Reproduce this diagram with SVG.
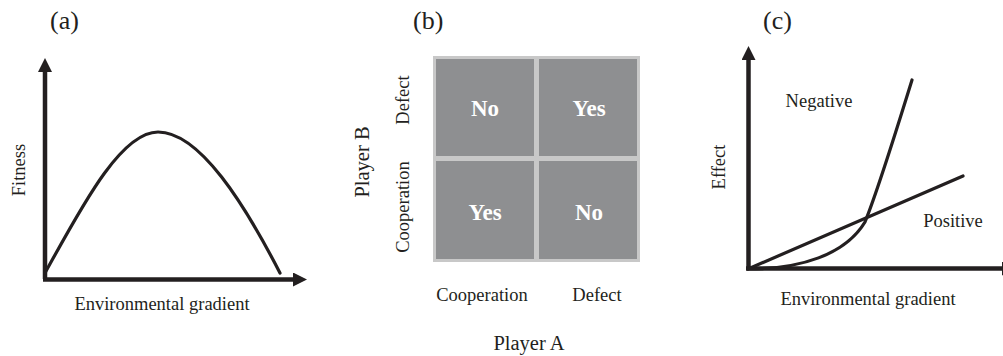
<svg xmlns="http://www.w3.org/2000/svg" width="1003" height="356" viewBox="0 0 1003 356">
  <style>
    .lbl { font-family: "Liberation Serif", "Times New Roman", serif; font-size: 18.5px; fill: #231f20; }
    .panel { font-family: "Liberation Serif", "Times New Roman", serif; font-size: 26px; fill: #231f20; }
    .player { font-family: "Liberation Serif", "Times New Roman", serif; font-size: 20.5px; fill: #231f20; }
    .cellTxt { font-family: "Liberation Serif", "Times New Roman", serif; font-size: 23px; font-weight: bold; fill: #ffffff; text-anchor: middle; }
    .axis { stroke: #231f20; stroke-width: 4.5; fill: none; }
    .curve { stroke: #231f20; stroke-width: 3.2; fill: none; stroke-linecap: round; }
    .cell { fill: #8e8f91; }
  </style>
  <defs>
    <marker id="arrow" viewBox="0 0 14 14" refX="0" refY="7" markerWidth="14" markerHeight="14" markerUnits="userSpaceOnUse" orient="auto">
      <path d="M0,0 L14,7 L0,14 z" fill="#231f20"/>
    </marker>
  </defs>
  <rect width="1003" height="356" fill="#ffffff"/>

  <!-- Panel (a) -->
  <g id="panel-a">
    <text class="panel" x="50" y="29">(a)</text>
    <text class="lbl" transform="translate(25,170) rotate(-90)" text-anchor="middle">Fitness</text>
    <text class="lbl" x="162" y="310" text-anchor="middle">Environmental gradient</text>
  </g>

  <!-- Panel (b) -->
  <g id="panel-b">
    <text class="panel" x="413" y="29">(b)</text>
    <rect x="433" y="56" width="207" height="206" fill="#c8c8c8"/>
    <g id="cell-cd">
      <rect class="cell" x="436" y="59" width="98" height="97"/>
      <text class="cellTxt" x="485" y="116">No</text>
    </g>
    <g id="cell-dd">
      <rect class="cell" x="539" y="59" width="98" height="97"/>
      <text class="cellTxt" x="589" y="116">Yes</text>
    </g>
    <g id="cell-cc">
      <rect class="cell" x="436" y="161" width="98" height="98"/>
      <text class="cellTxt" x="485" y="220">Yes</text>
    </g>
    <g id="cell-dc">
      <rect class="cell" x="539" y="161" width="98" height="98"/>
      <text class="cellTxt" x="589" y="220">No</text>
    </g>
    <text class="lbl" transform="translate(409,100) rotate(-90)" text-anchor="middle">Defect</text>
    <text class="lbl" transform="translate(409,207) rotate(-90)" text-anchor="middle">Cooperation</text>
    <text class="player" transform="translate(369,162) rotate(-90)" text-anchor="middle">Player B</text>
    <text class="lbl" x="482" y="301" text-anchor="middle">Cooperation</text>
    <text class="lbl" x="597" y="301" text-anchor="middle">Defect</text>
    <text class="player" x="529" y="350" text-anchor="middle">Player A</text>
  </g>

  <!-- Panel (c) -->
  <g id="panel-c">
    <text class="panel" x="763" y="29">(c)</text>
    <text class="lbl" transform="translate(725,167) rotate(-90)" text-anchor="middle">Effect</text>
    <text class="lbl" x="819" y="107" text-anchor="middle">Negative</text>
    <text class="lbl" x="953" y="227" text-anchor="middle">Positive</text>
    <text class="lbl" x="868" y="305" text-anchor="middle">Environmental gradient</text>
  </g>

  <!-- Connectors: axes and curves -->
  <g id="connectors">
    <path class="axis" d="M45,279 L45,72" marker-end="url(#arrow)"/>
    <path class="axis" d="M43,279.5 L293,279.5" marker-end="url(#arrow)"/>
    <path class="curve" d="M45,273 C80,210 120,132 158,132 C200,132 245,205 280,273"/>

    <path class="axis" d="M748.5,270 L748.5,60" marker-end="url(#arrow)"/>
    <path class="axis" d="M746,268.5 L1002,268.5" marker-end="url(#arrow)"/>
    <path class="curve" d="M748,269 L963,176"/>
    <path class="curve" d="M748,269 C800,269 845,255 865,222 C878,190 895,135 912,80"/>
  </g>
</svg>
